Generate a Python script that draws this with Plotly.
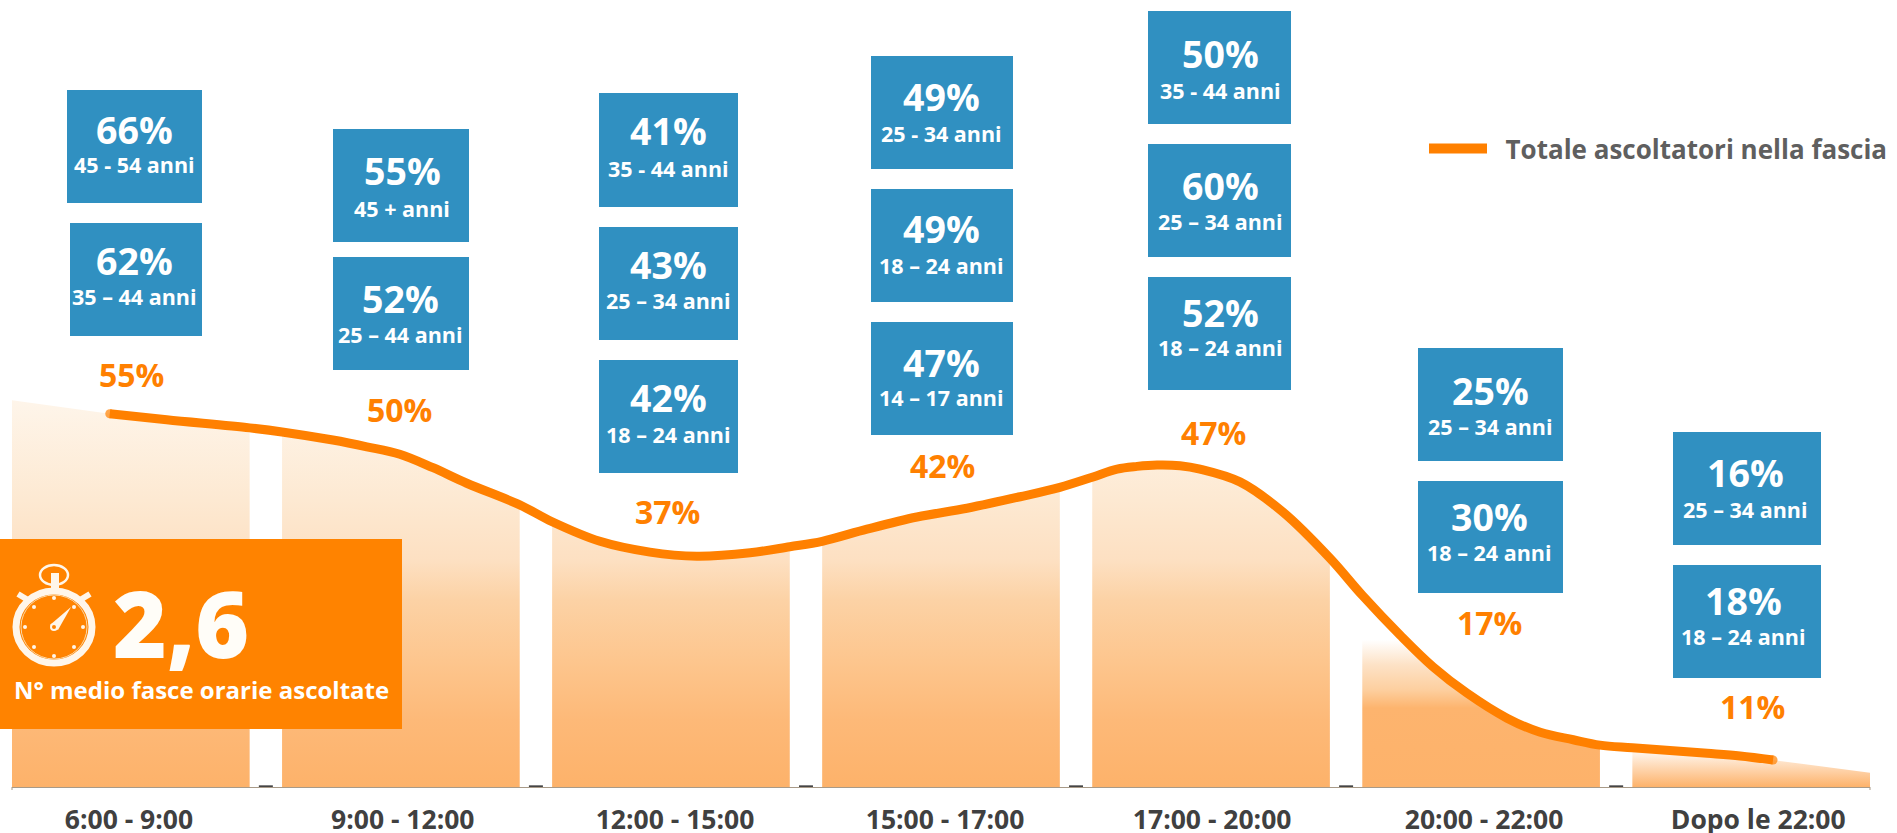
"""Ascoltatori per fascia oraria: curve, gradient bands and age callouts."""

import plotly.graph_objects as go

WIDTH = 1897
HEIGHT = 833

# Time slots (x axis categories)
slots = ['6:00 - 9:00', '9:00 - 12:00', '12:00 - 15:00', '15:00 - 17:00',
         '17:00 - 20:00', '20:00 - 22:00', 'Dopo le 22:00']
slot_totals = ['55%', '50%', '37%', '42%', '47%', '17%', '11%']

# Curve: position along the slots, height in percent
curve_x = [-0.44, -0.078, 0.133, 0.44, 0.56, 0.748, 0.874, 0.996, 1.119, 1.244, 1.44, 1.56, 1.737, 1.922,
           2.096, 2.293, 2.44, 2.56, 2.726, 2.911, 3.096, 3.293, 3.44, 3.56, 3.652, 3.726, 3.8,
           3.885, 3.959, 4.107, 4.267, 4.44, 4.56, 4.7, 4.822, 4.948, 5.096, 5.219, 5.341, 5.44,
           5.56, 5.837, 5.959, 6.081, 6.44]
curve_y = [57.3, 55.3, 54.4, 53.2, 52.6, 51.4, 50.4, 49.3, 47.3, 45.0, 41.8, 39.3, 36.4, 34.8,
           34.2, 34.7, 35.6, 36.4, 38.2, 40.0, 41.3, 43.0, 44.4, 45.9, 47.1, 47.5, 47.7,
           47.6, 47.1, 45.2, 40.7, 33.9, 28.4, 22.5, 17.8, 13.9, 10.2, 8.1, 7.0, 6.2,
           5.8, 5.0, 4.6, 4.0, 2.1]

# Age group callouts, top to bottom for each slot
box_values = ['66%', '62%', '55%', '52%', '41%', '43%', '42%', '49%', '49%', '47%',
              '50%', '60%', '52%', '25%', '30%', '16%', '18%']
box_ages = ['45 - 54 anni', '35 – 44 anni', '45 + anni', '25 – 44 anni', '35 - 44 anni',
            '25 – 34 anni', '18 – 24 anni', '25 - 34 anni', '18 – 24 anni', '14 – 17 anni',
            '35 - 44 anni', '25 – 34 anni', '18 – 24 anni', '25 – 34 anni', '18 – 24 anni',
            '25 – 34 anni', '18 – 24 anni']

LEGEND_TEXT = '\u00a0\u00a0Totale ascoltatori nella fascia'
BANNER_VALUE = '2,6'
BANNER_TEXT = 'N° medio fasce orarie ascoltate'

ORANGE = '#ff8000'
BLUE = '#3090c1'
GREY = '#404040'
FONT = 'Open Sans'

# Box layout in page pixels: x0, x1, y0, y1, text centre, big text y, small text y
box_layout = [
    (67, 202, 90, 203, 134, 129, 165), (70, 202, 223, 336, 134, 260, 296),
    (333, 469, 129, 242, 402, 171, 208), (333, 469, 257, 370, 400, 298, 334),
    (599, 738, 93, 207, 668, 131, 168), (599, 738, 227, 340, 668, 264, 300),
    (599, 738, 360, 473, 668, 397, 434),
    (871, 1013, 56, 169, 941, 96, 133), (871, 1013, 189, 302, 941, 229, 265),
    (871, 1013, 322, 435, 941, 362, 398),
    (1148, 1291, 11, 124, 1220, 53, 90), (1148, 1291, 144, 257, 1220, 185, 221),
    (1148, 1291, 277, 390, 1220, 312, 347),
    (1418, 1563, 348, 461, 1490, 390, 426), (1418, 1563, 481, 593, 1489, 516, 552),
    (1673, 1821, 432, 545, 1745, 472, 509), (1673, 1821, 565, 678, 1743, 600, 636),
]
label_layout = [(131, 374), (399, 409), (667, 511), (942, 465), (1213, 432), (1489, 622), (1752, 706)]
tick_shift = [-0.007, 0.007, 0.015, 0.015, 0.004, 0.011, 0.026]

BAND_HALF = 0.44
PLOT_L, PLOT_R, PLOT_B = 12, 1870, 787

# Band gradients, bottom to top
main_scale = [[0, '#fdb26a'], [0.173, '#fdb978'], [0.328, '#fdc68e'], [0.483, '#fcd2a5'],
              [0.587, '#fde0c2'], [0.742, '#fde9d2'], [1, '#fef5ea']]
evening_scale = [[0, '#fdb26a'], [0.537, '#fdb46e'], [0.66, '#fdcf9f'], [0.83, '#fde2c6'], [1, '#ffffff']]
night_scale = [[0, '#fdb26a'], [1, '#fff2e6']]
band_styles = [(main_scale, 57.3)] * 5 + [(evening_scale, 21.8), (night_scale, 4.9)]


def px(x):
    return (x - PLOT_L) / (PLOT_R - PLOT_L)


def py(y):
    return 1 - y / PLOT_B


def rect(x0, x1, y0, y1, color):
    return dict(type='rect', xref='paper', yref='paper', x0=px(x0), x1=px(x1), y0=py(y0), y1=py(y1),
                fillcolor=color, line_width=0, layer='above')


def ellipse(cx, cy, rx, ry, fill='rgba(0,0,0,0)', line='rgba(0,0,0,0)', width=0):
    return dict(type='circle', xref='paper', yref='paper', x0=px(cx - rx), x1=px(cx + rx),
                y0=py(cy + ry), y1=py(cy - ry), fillcolor=fill,
                line=dict(color=line, width=width), layer='above')


def segment(x0, y0, x1, y1, color, width):
    return dict(type='line', xref='paper', yref='paper', x0=px(x0), x1=px(x1), y0=py(y0), y1=py(y1),
                line=dict(color=color, width=width), layer='above')


def text(x, y, string, size, color, weight=700):
    return dict(xref='paper', yref='paper', x=px(x), y=py(y), text=string, showarrow=False,
                xanchor='center', yanchor='middle',
                font=dict(family=FONT, size=size, color=color, weight=weight))


fig = go.Figure()

# One gradient band per slot, its top following the curve
for i, (scale, stop) in enumerate(band_styles):
    band = [k for k, x in enumerate(curve_x) if i - BAND_HALF <= x <= i + BAND_HALF]
    fig.add_trace(go.Scatter(
        x=[curve_x[k] for k in band], y=[curve_y[k] for k in band],
        mode='lines', line=dict(width=0), fill='tozeroy', showlegend=False, hoverinfo='skip',
        fillgradient=dict(type='vertical', colorscale=scale, start=0, stop=stop)))

# Small dashes between the slots
fig.add_trace(go.Scatter(
    x=[i + 0.5 for i in range(len(slots) - 1)], y=[0.1] * (len(slots) - 1), mode='markers',
    marker=dict(symbol='line-ew', size=10, line=dict(color='#444444', width=2)),
    showlegend=False, hoverinfo='skip', cliponaxis=False))

# Total listeners line, without the outer points of the bands
line_x = curve_x[1:-1]
line_y = curve_y[1:-1]
fig.add_trace(go.Scatter(
    x=line_x, y=line_y, mode='lines+markers', name=LEGEND_TEXT, showlegend=False,
    line=dict(color=ORANGE, width=9, shape='spline', smoothing=1.0),
    marker=dict(color=ORANGE, size=[9] + [0] * (len(line_x) - 2) + [9], line=dict(width=0)),
    hoverinfo='skip'))

# Legend swatch is thicker than the curve
fig.add_trace(go.Scatter(x=[None], y=[None], mode='lines', name=LEGEND_TEXT,
                         line=dict(color=ORANGE, width=11)))

shapes = []
annotations = []

for (x0, x1, y0, y1, cx, big_y, small_y), value, age in zip(box_layout, box_values, box_ages):
    shapes.append(rect(x0, x1, y0, y1, BLUE))
    annotations.append(text(cx, big_y, value, 37.5, 'white'))
    annotations.append(text(cx, small_y, age, 21.5, 'white'))

for (x, y), total in zip(label_layout, slot_totals):
    annotations.append(text(x, y, total, 32, ORANGE))

# Axis end ticks
shapes.append(segment(PLOT_L, PLOT_B, PLOT_L, PLOT_B + 3, '#a89a88', 1))
shapes.append(segment(PLOT_R, PLOT_B, PLOT_R, PLOT_B + 3, '#a89a88', 1))

# Banner with stopwatch
shapes.append(rect(0, 402, 539, 729, '#ff8300'))
shapes.append(ellipse(54, 575, 14, 10, line='#fff6ea', width=2.5))
shapes.append(rect(51, 59, 573, 592, '#fff6ea'))
shapes.append(segment(18, 594, 28, 600, '#fff6ea', 6))
shapes.append(segment(90, 594, 80, 600, '#fff6ea', 6))
shapes.append(ellipse(54, 627, 38, 36, fill='rgba(0,0,0,0)', line='#fff6ea', width=7))
shapes.append(ellipse(54, 627, 33, 32, line='#fbd9a8', width=1))
for dx, dy in [(0, -29), (20, -20), (29, 0), (20, 20), (0, 29), (-20, 20), (-29, 0), (-20, -20)]:
    shapes.append(ellipse(54 + dx, 627 + dy, 2, 2, fill='#fff6ea'))
shapes.append(dict(type='path', xref='paper', yref='paper', layer='above', fillcolor='#fff6ea', line_width=0,
                   path=f'M {px(50)} {py(625)} L {px(71)} {py(607)} L {px(58)} {py(630)} Z'))
shapes.append(ellipse(54, 627, 3, 3, fill='#ff8300', line='#fff6ea', width=2))
annotations.append(text(181, 622, BANNER_VALUE, 92, '#fffdf8', weight=800))
annotations.append(text(201, 689, BANNER_TEXT, 24, 'white'))

fig.update_layout(
    width=WIDTH, height=HEIGHT,
    margin=dict(l=PLOT_L, r=WIDTH - PLOT_R, t=0, b=HEIGHT - PLOT_B),
    paper_bgcolor='white', plot_bgcolor='white',
    shapes=shapes, annotations=annotations,
    legend=dict(x=px(1424), y=py(125), xanchor='left', yanchor='top', itemwidth=58,
                bgcolor='rgba(0,0,0,0)', font=dict(family=FONT, size=26, color='#5f5f5f', weight=700)),
    xaxis=dict(range=[-BAND_HALF, 6 + BAND_HALF], tickmode='array', automargin=False,
               tickvals=[i + s for i, s in enumerate(tick_shift)], ticktext=slots,
               showgrid=False, zeroline=False, showline=True, linecolor='#a89a88', linewidth=1,
               ticks='outside', ticklen=9, tickcolor='rgba(0,0,0,0)',
               tickfont=dict(family=FONT, size=26.5, color=GREY, weight=700)),
    yaxis=dict(range=[0, PLOT_B / 6.75], visible=False, fixedrange=True, automargin=False),
)

fig.write_html("out.html", config=dict(displayModeBar=False),
               post_script="document.body.style.margin='0';")
